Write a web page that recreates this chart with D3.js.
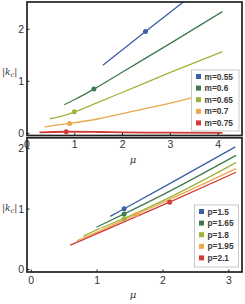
<!DOCTYPE html>
<html><head><meta charset="utf-8">
<script src="https://cdn.jsdelivr.net/npm/d3@7"></script>
<style>body{margin:0;background:#fff}svg{display:block}</style>
</head><body>
<script>
// ---- data ----
const colors = ["#3d5fa8", "#3f7b4f", "#9db43a", "#e9a84b", "#d23a35"];
const topLabels = ["m=0.55", "m=0.6", "m=0.65", "m=0.7", "m=0.75"];
const topCurves = [
  [[1.59,1.31],[2.48,1.96],[3.35,2.58]],
  [[0.78,0.55],[1.0,0.65],[1.4,0.85],[2.0,1.18],[3.0,1.73],[4.09,2.34]],
  [[0.48,0.28],[0.6,0.30],[0.8,0.35],[1.0,0.415],[1.5,0.60],[2.0,0.79],[3.0,1.17],[4.09,1.57]],
  [[0.37,0.12],[0.5,0.145],[0.89,0.19],[1.5,0.28],[2.0,0.38],[2.5,0.48],[3.0,0.58],[3.44,0.68],[4.09,0.82]],
  [[0.26,0.02],[0.82,0.03],[1.5,0.025],[2.0,0.02],[3.0,0.012],[4.09,0.01]]
];
const topMarkers = [[2.48,1.96],[1.40,0.85],[0.99,0.415],[0.89,0.19],[0.82,0.03]];
const botLabels = ["p=1.5", "p=1.65", "p=1.8", "p=1.95", "p=2.1"];
const botCurves = [
  [[1.2,0.88],[1.41,1.005],[2.0,1.36],[3.1,2.03]],
  [[0.99,0.70],[1.41,0.92],[2.0,1.24],[3.11,1.89]],
  [[0.79,0.55],[1.0,0.66],[1.41,0.845],[2.0,1.14],[3.11,1.77]],
  [[0.69,0.476],[1.0,0.62],[1.60,0.915],[2.0,1.11],[3.11,1.67]],
  [[0.59,0.405],[0.8,0.50],[1.2,0.69],[2.1,1.115],[3.11,1.61]]
];
const botMarkers = [[1.41,1.005],[1.41,0.92],[1.41,0.845],[1.60,0.915],[2.10,1.115]];
const topXTicks = [0,1,2,3,4];
const topYTicks = [0,1,2];
const botXTicks = [0,1,2,3];
const botYTicks = [0,1,2];

const W = 245, H = 304;
const svg = d3.select("body").append("svg").attr("width", W).attr("height", H);
const tickFont = "'Liberation Sans', Arial, sans-serif";

function panel(cfg) {
  const x = d3.scaleLinear().domain(cfg.xd).range([27, 242]);
  const y = d3.scaleLinear().domain(cfg.yd).range([cfg.y1, cfg.y0]);
  const id = cfg.id;
  svg.append("clipPath").attr("id", id).append("rect")
    .attr("x", 27).attr("y", cfg.y0).attr("width", 215).attr("height", cfg.y1 - cfg.y0);
  const g = svg.append("g").attr("clip-path", `url(#${id})`);
  const line = d3.line().x(d => x(d[0])).y(d => y(d[1])).curve(d3.curveMonotoneX);
  cfg.curves.forEach((c, i) => {
    g.append("path").attr("d", line(c)).attr("fill", "none")
      .attr("stroke", colors[i]).attr("stroke-width", i === 4 && cfg.id === "ct" ? 1.8 : 1.3);
  });
  cfg.markers.forEach((m, i) => {
    g.append("circle").attr("cx", x(m[0])).attr("cy", y(m[1])).attr("r", 2.5).attr("fill", colors[i]);
  });
  // legend
  const L = cfg.legend;
  const lg = svg.append("g");
  lg.append("rect").attr("x", L.x).attr("y", L.y).attr("width", L.w).attr("height", L.h)
    .attr("fill", "#fff").attr("stroke", "#c8c8c8").attr("stroke-width", 1);
  cfg.labels.forEach((t, i) => {
    const cy = L.y + 6.5 + i * 11.6;
    lg.append("rect").attr("x", L.x + 4.5).attr("y", cy - 2.5).attr("width", 5).attr("height", 5).attr("fill", colors[i]);
    lg.append("text").attr("x", L.x + 13).attr("y", cy + 3).text(t)
      .attr("font-family", tickFont).attr("font-size", 8.3).attr("font-weight", "bold").attr("fill", "#3a3a3a");
  });
  // frame
  svg.append("rect").attr("x", 27).attr("y", cfg.y0).attr("width", 215).attr("height", cfg.y1 - cfg.y0)
    .attr("fill", "none").attr("stroke", "#222").attr("stroke-width", 1.7);
  // ticks
  cfg.xt.forEach(v => {
    svg.append("line").attr("x1", x(v)).attr("x2", x(v)).attr("y1", cfg.y1).attr("y2", cfg.y1 - 2.5)
      .attr("stroke", "#222").attr("stroke-width", 1);
    svg.append("text").attr("x", x(v)).attr("y", cfg.xLabelY).attr("text-anchor", "middle").text(v)
      .attr("font-family", tickFont).attr("font-size", 10.5).attr("fill", "#333");
  });
  cfg.yt.forEach(v => {
    svg.append("line").attr("x1", 27).attr("x2", 29.5).attr("y1", y(v)).attr("y2", y(v))
      .attr("stroke", "#222").attr("stroke-width", 1);
    svg.append("text").attr("x", 24).attr("y", y(v) + 3.8).attr("text-anchor", "end").text(v)
      .attr("font-family", tickFont).attr("font-size", 10.5).attr("fill", "#333");
  });
  // axis labels
  svg.append("text").attr("x", 133).attr("y", cfg.muY).attr("text-anchor", "middle").text("μ")
    .attr("font-family", "'DejaVu Serif', serif").attr("font-style", "italic").attr("font-size", 10).attr("fill", "#333");
  const kl = svg.append("text").attr("x", 2).attr("y", cfg.kY)
    .attr("font-family", "'DejaVu Serif', serif").attr("font-size", 9).attr("fill", "#333");
  kl.append("tspan").text("|");
  kl.append("tspan").attr("font-style", "italic").text("k");
  kl.append("tspan").attr("font-style", "italic").attr("font-size", 6.5).attr("dy", 2).text("c");
  kl.append("tspan").attr("dy", -2).text("|");
}

panel({
  id: "ct", xd: [0, 4.5], yd: [-0.042, 2.525], y0: 2, y1: 135.5,
  curves: topCurves, markers: topMarkers, labels: topLabels,
  xt: topXTicks, yt: topYTicks, xLabelY: 148, muY: 163, kY: 75,
  legend: {x: 191.5, y: 70, w: 47.5, h: 61}
});
panel({
  id: "cb", xd: [-0.065, 3.2], yd: [-0.041, 2.18], y0: 137.8, y1: 272,
  curves: botCurves, markers: botMarkers, labels: botLabels,
  xt: botXTicks, yt: botYTicks, xLabelY: 284, muY: 298, kY: 211,
  legend: {x: 194.5, y: 205, w: 44, h: 62}
});
</script>
</body></html>
